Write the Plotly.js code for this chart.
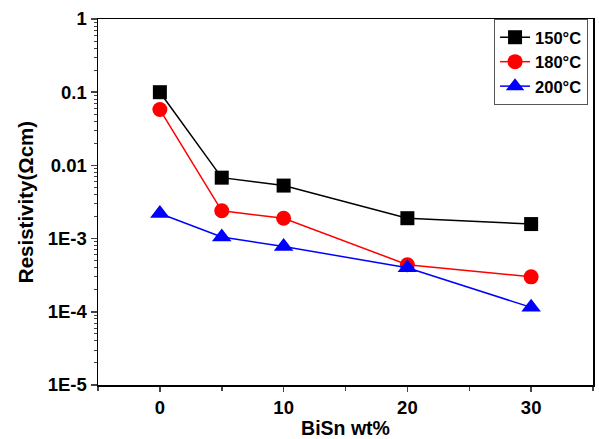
<!DOCTYPE html>
<html>
<head>
<meta charset="utf-8">
<script src="https://cdn.plot.ly/plotly-3.0.1.min.js"></script>
<style>html,body{margin:0;padding:0;background:#fff}#chart{width:599px;height:439px}</style>
</head>
<body>
<div id="chart"></div>
<script>
const bisn = [0, 5, 10, 20, 30];
const r150 = [0.1, 0.0068, 0.0053, 0.0019, 0.00158];
const r180 = [0.058, 0.0024, 0.0019, 0.00044, 0.0003];
const r200 = [0.0022, 0.00105, 0.00078, 0.0004, 0.000115];
const seriesNames = ['150°C', '180°C', '200°C'];
const yTickVals = [1, 0.1, 0.01, 0.001, 0.0001, 0.00001];
const yTickText = ['1', '0.1', '0.01', '1E-3', '1E-4', '1E-5'];
const xTickVals = [0, 10, 20, 30];

const font = 'Arial, "Liberation Sans", sans-serif';
const mk = (y, name, color, symbol, size) => ({
  x: bisn, y: y, name: name, type: 'scatter', mode: 'lines+markers',
  line: {color: color, width: 1.5},
  marker: {color: color, symbol: symbol, size: size, line: {color: color, width: 0}}
});
const data = [
  mk(r150, seriesNames[0], '#000000', 'square', 14),
  mk(r180, seriesNames[1], '#ff0000', 'circle', 15),
  mk(r200, seriesNames[2], '#0000ff', 'triangle-up', 17)
];
const layout = {
  width: 599, height: 439,
  margin: {l: 98, r: 6, t: 19, b: 54},
  paper_bgcolor: '#fff', plot_bgcolor: '#fff',
  font: {family: font, size: 16, color: '#000'},
  showlegend: true,
  legend: {x: 0.99, xanchor: 'right', y: 1, yanchor: 'top', bgcolor: '#fff',
    bordercolor: '#555', borderwidth: 1, font: {family: font, size: 16.5, weight: 'bold'},
    tracegroupgap: 0, itemwidth: 30},
  xaxis: {
    range: [-5, 35], tickvals: xTickVals, ticks: 'outside', ticklen: 5, tickwidth: 1.5,
    showline: true, linecolor: '#000', linewidth: 1.5, mirror: true, showgrid: false, zeroline: false,
    tickfont: {family: font, size: 18.5, weight: 'bold'},
    minor: {ticks: 'outside', ticklen: 4, dtick: 5, tick0: 0, tickwidth: 1.5, showgrid: false},
    title: {text: 'BiSn wt%', font: {family: font, size: 19.5, weight: 'bold'}, standoff: 4}
  },
  yaxis: {
    type: 'log', range: [-5, 0], tickvals: yTickVals, ticktext: yTickText,
    ticks: 'outside', ticklen: 6, tickwidth: 1.5,
    showline: true, linecolor: '#000', linewidth: 1.5, mirror: true, showgrid: false, zeroline: false,
    tickfont: {family: font, size: 18.5, weight: 'bold'},
    minor: {ticks: 'outside', ticklen: 3, dtick: 'D1', tickwidth: 1, showgrid: false},
    title: {text: 'Resistivity(Ωcm)', font: {family: font, size: 20.5, weight: 'bold'}, standoff: 8}
  }
};
Plotly.newPlot('chart', data, layout, {displayModeBar: false, staticPlot: true});
</script>
</body>
</html>
